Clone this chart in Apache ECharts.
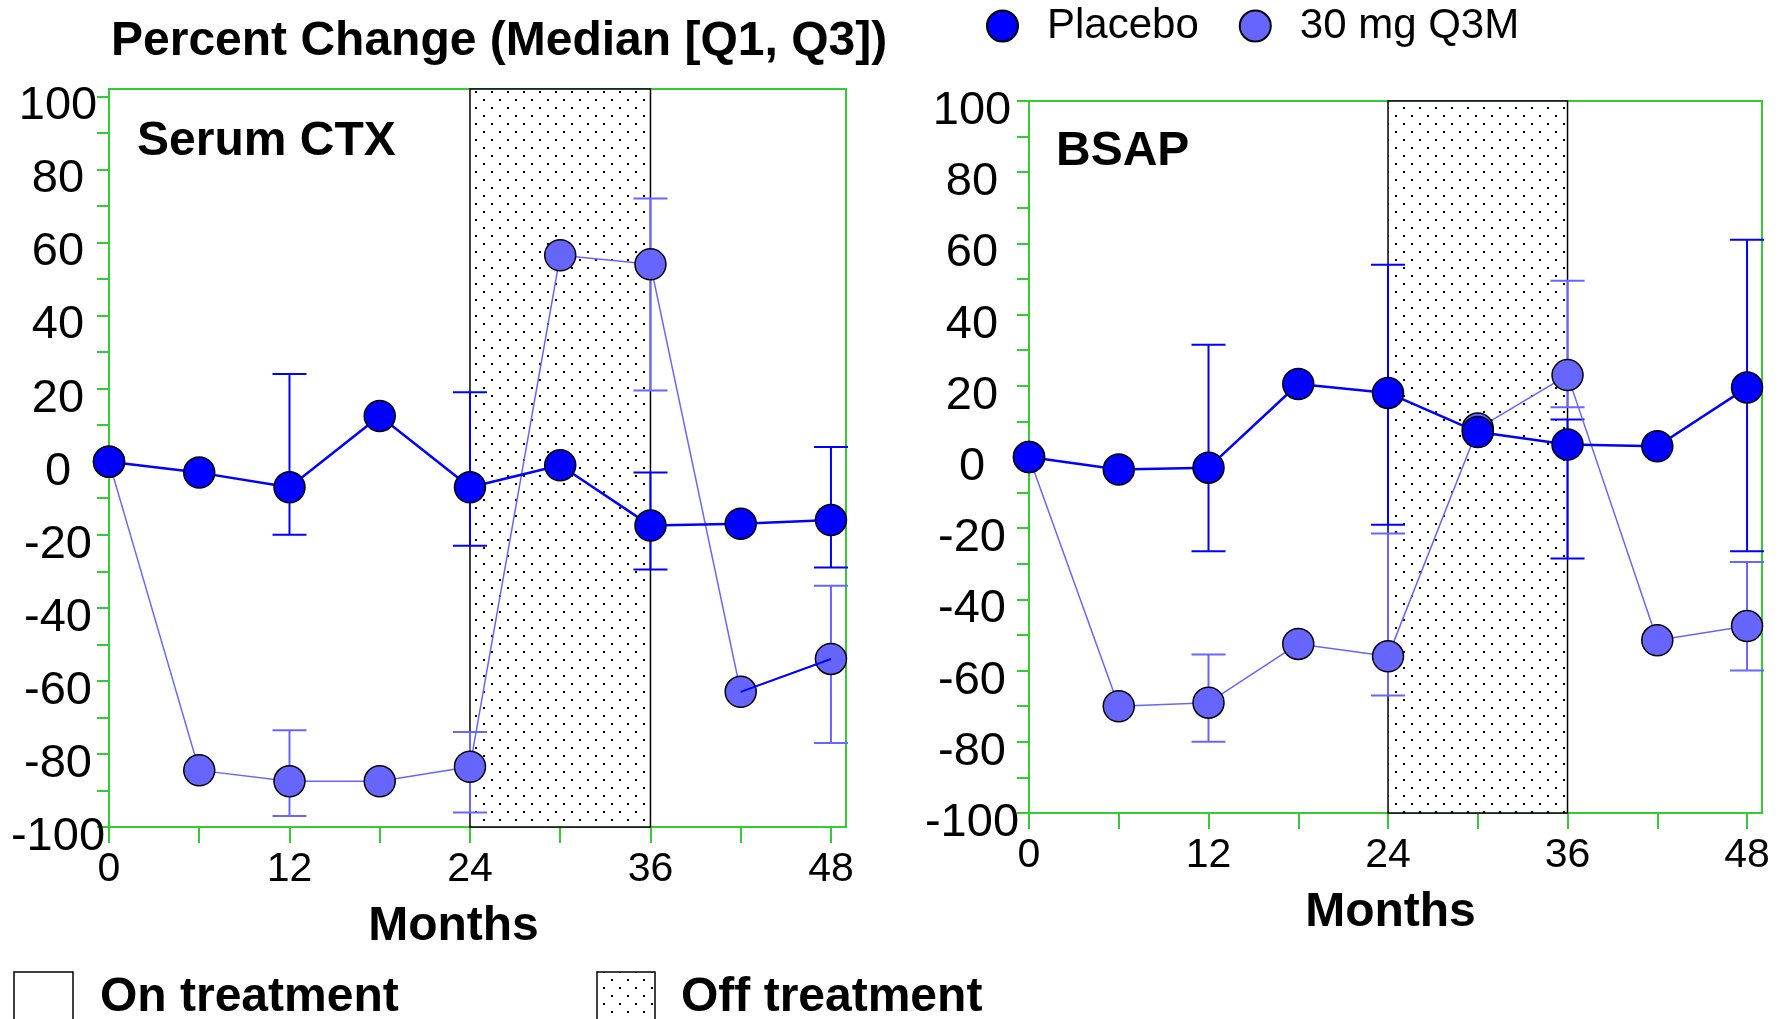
<!DOCTYPE html>
<html><head><meta charset="utf-8">
<script src="https://cdn.jsdelivr.net/npm/echarts@6/dist/echarts.min.js"></script>
<style>html,body{margin:0;padding:0;background:#fff}#c{width:1789px;height:1019px}</style>
</head><body><div id="c"></div>
<script>
// ---- data ----
const months = [0, 6, 12, 18, 24, 30, 36, 42, 48];
const ctxPlacebo = [0, -3, -7, 12.5, -7, -1, -17.5, -17, -16];
const ctx30mg = [0, -84.5, -87.5, -87.5, -83.5, 56.5, 54, -63, -54];
const errMonths = [12, 24, 36, 48];
const ctxPlaceboQ1 = [-20, -23, -29.5, -29];
const ctxPlaceboQ3 = [24, 19, -3, 4];
const ctx30mgQ1 = [-97, -96, 19.5, -77];
const ctx30mgQ3 = [-73.5, -74, 72, -34];
const bsapPlacebo = [0, -3.5, -3, 20.5, 18, 7, 3.5, 3, 19.5];
const bsap30mg = [0, -70, -69, -52.5, -56, 8, 23, -51.5, -47.5];
const bsapPlaceboQ1 = [-26.5, -19, -28.5, -26.5];
const bsapPlaceboQ3 = [31.5, 54, 10.5, 61];
const bsap30mgQ1 = [-80, -67, 14, -60];
const bsap30mgQ3 = [-55.5, -21.5, 49.5, -29.5];
const offTreatment = [24, 36];
const xTickValues = [0, 6, 12, 18, 24, 30, 36, 42, 48];
const xLabelValues = [0, 12, 24, 36, 48];
const yTickValues = [-100, -90, -80, -70, -60, -50, -40, -30, -20, -10, 0, 10, 20, 30, 40, 50, 60, 70, 80, 90, 100];
const yLabelValues = [-100, -80, -60, -40, -20, 0, 20, 40, 60, 80, 100];
const seriesNames = ['Placebo', '30 mg Q3M'];
const panelNames = ['Serum CTX', 'BSAP'];

// ---- styles ----
const FONT = '"Liberation Sans", Arial, sans-serif';
const GREEN = '#33cc33';
const C_PLA = '#0000ff';
const C_30 = '#6666ff';

const pc = document.createElement('canvas');
pc.width = 16; pc.height = 16;
const g = pc.getContext('2d');
g.fillStyle = '#fff'; g.fillRect(0, 0, 16, 16);
g.fillStyle = '#000'; g.fillRect(3, 3, 2, 2); g.fillRect(11, 11, 2, 2);
const dots = { image: pc, repeat: 'repeat' };

function pairs(xs, ys) { return xs.map((x, i) => [x, ys[i]]); }

function xAxisOf(idx, pad) {
  return {
    type: 'value', gridIndex: idx, min: 0, max: 49,
    axisLine: { show: true, onZero: false, lineStyle: { color: GREEN, width: 2 } },
    axisTick: { show: true, customValues: xTickValues, length: 16, lineStyle: { color: GREEN, width: 2 } },
    axisLabel: { customValues: xLabelValues, fontSize: 41, color: '#000', fontFamily: FONT, margin: 22 },
    splitLine: { show: false },
    name: 'Months', nameLocation: 'middle', nameGap: 76,
    nameTextStyle: { fontSize: 48, fontWeight: 'bold', color: '#000', fontFamily: FONT, padding: pad }
  };
}
function yAxisOf(idx, max, margin) {
  return {
    type: 'value', gridIndex: idx, min: -100, max: max,
    axisLine: { show: true, onZero: false, lineStyle: { color: GREEN, width: 2 } },
    axisTick: { show: true, customValues: yTickValues, length: 12, lineStyle: { color: GREEN, width: 2 } },
    axisLabel: { customValues: yLabelValues, fontSize: 47, color: '#000', fontFamily: FONT, margin: margin,
      align: 'center', verticalAlign: 'top', lineHeight: 20 },
    splitLine: { show: false }
  };
}
function errSeries(idx, color, lo, hi) {
  return {
    type: 'custom', xAxisIndex: idx, yAxisIndex: idx, z: 2, silent: true,
    data: errMonths.map((m, i) => [m, lo[i], hi[i]]),
    encode: { x: 0, y: [1, 2] },
    renderItem(params, api) {
      const x = api.value(0);
      const a = api.coord([x, api.value(1)]);
      const b = api.coord([x, api.value(2)]);
      const w = 17;
      const st = { stroke: color, lineWidth: 2 };
      return { type: 'group', children: [
        { type: 'line', shape: { x1: a[0], y1: a[1], x2: b[0], y2: b[1] }, style: st },
        { type: 'line', shape: { x1: a[0] - w, y1: a[1], x2: a[0] + w, y2: a[1] }, style: st },
        { type: 'line', shape: { x1: b[0] - w, y1: b[1], x2: b[0] + w, y2: b[1] }, style: st }
      ]};
    }
  };
}
function lineSeries(idx, name, color, ys, lw, z) {
  return {
    type: 'line', name: name, xAxisIndex: idx, yAxisIndex: idx, z: z,
    data: pairs(months, ys), symbol: 'circle', symbolSize: 31, showSymbol: true,
    lineStyle: { color: color, width: lw },
    itemStyle: { color: color, borderColor: '#000', borderWidth: 1.5 }
  };
}
function shade(idx) {
  return {
    type: 'line', xAxisIndex: idx, yAxisIndex: idx, data: [], z: 1, silent: true,
    markArea: { silent: true, z: 1,
      itemStyle: { color: dots, borderColor: '#000', borderWidth: 1.5 },
      data: [[{ xAxis: offTreatment[0] }, { xAxis: offTreatment[1] }]] }
  };
}

// left 30 mg series: last segment drawn in dark blue, as in the original
const ctx30Series = lineSeries(0, seriesNames[1], C_30, ctx30mg, 1.5, 3);
ctx30Series.markLine = {
  silent: true, symbol: 'none', label: { show: false },
  lineStyle: { color: C_PLA, width: 2, type: 'solid' },
  data: [[{ coord: [months[7], ctx30mg[7]] }, { coord: [months[8], ctx30mg[8]] }]]
};

const chart = echarts.init(document.getElementById('c'), null, { renderer: 'canvas' });
chart.setOption({
  animation: false,
  backgroundColor: '#fff',
  title: [
    { text: 'Percent Change (Median [Q1, Q3])', left: 111, top: 18, padding: 0,
      textStyle: { fontSize: 48, fontWeight: 'bold', color: '#000', fontFamily: FONT } },
    { text: panelNames[0], left: 137, top: 118, padding: 0,
      textStyle: { fontSize: 48, fontWeight: 'bold', color: '#000', fontFamily: FONT } },
    { text: panelNames[1], left: 1056, top: 128, padding: 0,
      textStyle: { fontSize: 48, fontWeight: 'bold', color: '#000', fontFamily: FONT } }
  ],
  legend: {
    data: seriesNames, left: 986, top: 5, padding: 0, icon: 'circle',
    itemWidth: 31, itemHeight: 31, itemGap: 40,
    textStyle: { fontSize: 42, color: '#000', fontFamily: FONT, padding: [0, 0, 0, 24] }
  },
  grid: [
    { left: 109, top: 89, width: 737, height: 738, show: true, borderColor: GREEN, borderWidth: 2, backgroundColor: 'transparent' },
    { left: 1029, top: 101, width: 733, height: 712, show: true, borderColor: GREEN, borderWidth: 2, backgroundColor: 'transparent' }
  ],
  xAxis: [xAxisOf(0, [0, 48, 0, 0]), xAxisOf(1, [0, 10, 0, 0])],
  yAxis: [yAxisOf(0, 102, 51), yAxisOf(1, 100, 57)],
  graphic: [
    { type: 'rect', shape: { x: 14, y: 972, width: 59, height: 60 }, style: { fill: '#fff', stroke: '#000', lineWidth: 1.5 } },
    { type: 'text', x: 100, y: 998, style: { text: 'On treatment', font: 'bold 48px ' + FONT, fill: '#000', verticalAlign: 'middle' } },
    { type: 'rect', shape: { x: 597, y: 972, width: 58, height: 60 }, style: { fill: dots, stroke: '#000', lineWidth: 1.5 } },
    { type: 'text', x: 681, y: 998, style: { text: 'Off treatment', font: 'bold 48px ' + FONT, fill: '#000', verticalAlign: 'middle' } }
  ],
  series: [
    shade(0), shade(1),
    errSeries(0, C_PLA, ctxPlaceboQ1, ctxPlaceboQ3),
    errSeries(0, C_30, ctx30mgQ1, ctx30mgQ3),
    errSeries(1, C_PLA, bsapPlaceboQ1, bsapPlaceboQ3),
    errSeries(1, C_30, bsap30mgQ1, bsap30mgQ3),
    ctx30Series,
    lineSeries(1, seriesNames[1], C_30, bsap30mg, 1.5, 3),
    lineSeries(0, seriesNames[0], C_PLA, ctxPlacebo, 2.5, 4),
    lineSeries(1, seriesNames[0], C_PLA, bsapPlacebo, 2.5, 4)
  ]
});
</script></body></html>
